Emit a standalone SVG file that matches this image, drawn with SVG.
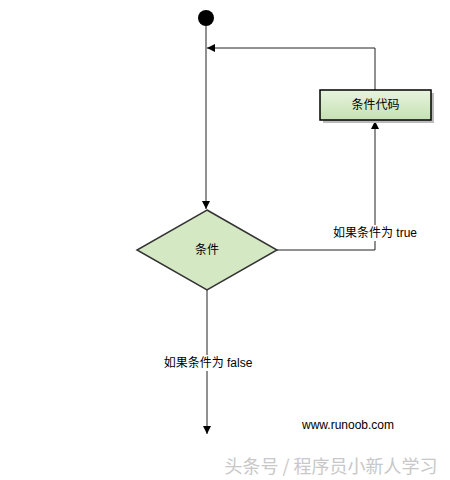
<svg xmlns="http://www.w3.org/2000/svg" width="450" height="480" viewBox="0 0 450 480">
<defs>
<style>
.ln{fill:none;stroke:#222;stroke-width:1}
.t{font-family:"Liberation Sans","Noto Sans CJK SC",sans-serif;font-size:12px;fill:#000;text-anchor:middle;dominant-baseline:central}
.lbl{fill:#fff}
</style>
<marker id="ah" viewBox="0 0 10 10" refX="10" refY="5" markerWidth="8" markerHeight="8" markerUnits="userSpaceOnUse" orient="auto">
<path d="M0,0 L10,5 L0,10 z" fill="#000"/>
</marker>
<linearGradient id="g" x1="0" y1="0" x2="0" y2="1">
<stop offset="0" stop-color="#e8f4df"/>
<stop offset="1" stop-color="#c5e0b3"/>
</linearGradient>
</defs>
<rect width="450" height="480" fill="#fff"/>
<g id="connectors">
<path class="ln" d="M206,26 L206,209" marker-end="url(#ah)"/>
<path class="ln" d="M375,90 L375,48 L207,48" marker-end="url(#ah)"/>
<path class="ln" d="M277,250 L375,250 L375,121" marker-end="url(#ah)"/>
<path class="ln" d="M207,290 L207,434" marker-end="url(#ah)"/>
<rect class="lbl" x="331" y="225" width="88" height="16"/>
<text class="t" x="375" y="233">如果条件为 true</text>
<rect class="lbl" x="161" y="355" width="94" height="16"/>
<text class="t" x="208" y="363">如果条件为 false</text>
</g>
<g id="start">
<circle cx="206" cy="18" r="8" fill="#000"/>
</g>
<g id="code">
<rect x="323" y="93" width="111" height="30" fill="#bbb"/>
<rect x="320" y="90" width="111" height="30" fill="url(#g)" stroke="#000" stroke-width="1.5"/>
<text class="t" x="375.5" y="105">条件代码</text>
</g>
<g id="cond">
<polygon points="207,210 277,250 207,290 137,250" fill="#d5e8c4" stroke="#333" stroke-width="1.5"/>
<text class="t" x="207" y="250">条件</text>
</g>
<g id="site">
<text class="t" x="348" y="425">www.runoob.com</text>
</g>
<g id="watermark">
<text x="331" y="465" font-family="'Noto Sans CJK SC',sans-serif" font-size="18" fill="#c8c8c8" text-anchor="middle" dominant-baseline="central">头条号 / 程序员小新人学习</text>
</g>
</svg>
